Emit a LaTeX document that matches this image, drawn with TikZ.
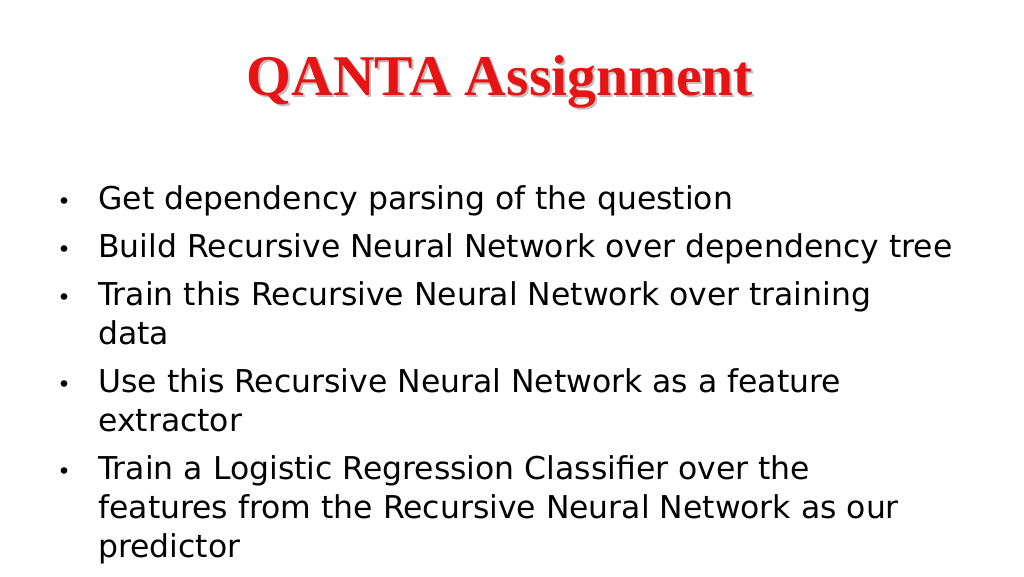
\documentclass[tikz,border=0pt]{standalone}
\usepackage{fontspec}
\setmainfont{DejaVu Sans}
\newfontfamily\titlefont{Liberation Serif}
\usetikzlibrary{positioning}
\definecolor{titlered}{RGB}{230,20,20}
\begin{document}
\begin{tikzpicture}[x=0.02cm, y=-0.02cm,
    titletext/.style={font=\titlefont\bfseries\fontsize{32.8}{36}\selectfont, anchor=base},
    item/.style={anchor=north west, align=left, inner sep=0pt, font=\fontsize{17.9}{22.4}\selectfont},
    dot/.style={anchor=base, inner sep=0pt, font=\fontsize{13}{16}\selectfont}
]
\useasboundingbox (0,0) rectangle (1024,576);

% Title with shadow
\node[titletext, text=gray!50] (shadow) at (502,97) {QANTA Assignment};
\node[titletext, text=titlered] (title) at (500,95) {QANTA Assignment};

% Bullets
\foreach \y/\name/\txt in {
    209/one/{Get dependency parsing of the question},
    257/two/{Build Recursive Neural Network over dependency tree},
    305/three/{Train this Recursive Neural Network over training\\data},
    392/four/{Use this Recursive Neural Network as a feature\\extractor},
    479/five/{Train a Logistic Regression Classifier over the\\features from the Recursive Neural Network as our\\predictor}} {
  \node[dot] (dot\name) at (64,\y) {•};
  \node[item] (\name) at (98,\y-24) {\txt};
}
\end{tikzpicture}
\end{document}
